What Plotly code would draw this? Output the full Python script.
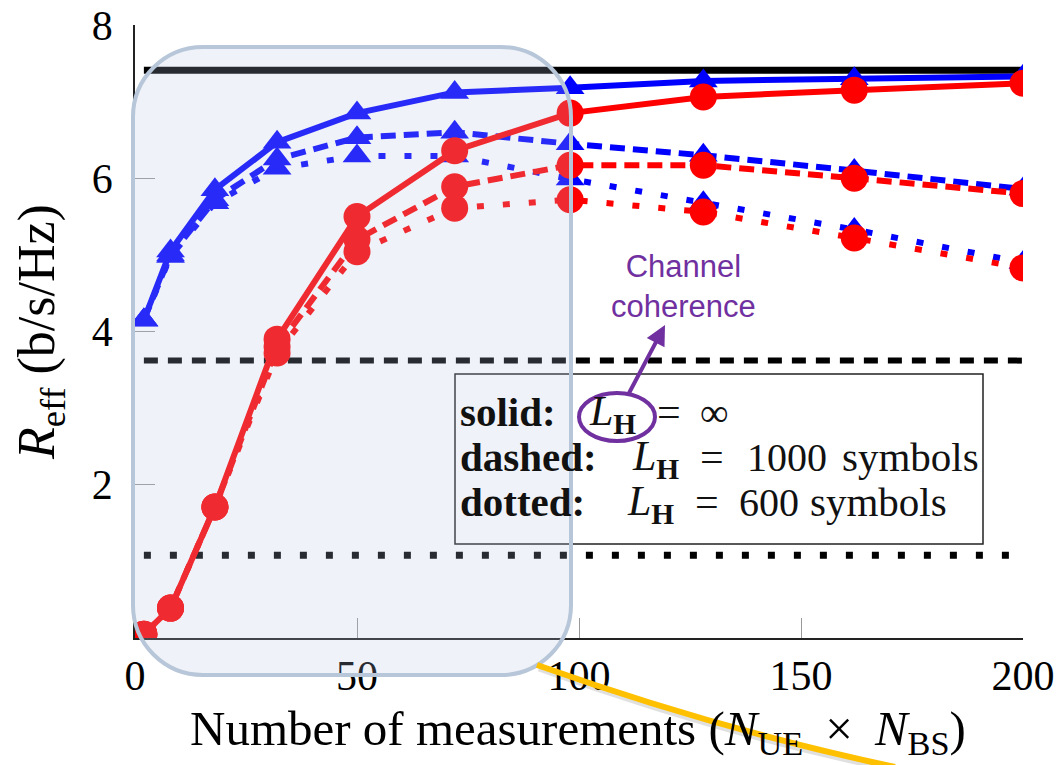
import plotly.graph_objects as go

# ---------------- data ----------------
measurements = [2, 8, 18, 32, 50, 72, 98, 128, 162, 200]

blue_solid  = [4.15, 5.05, 5.85, 6.47, 6.85, 7.12, 7.18, 7.27, 7.30, 7.33]
blue_dashed = [4.15, 5.00, 5.72, 6.25, 6.53, 6.60, 6.45, 6.30, 6.10, 5.86]
blue_dotted = [4.15, 4.98, 5.68, 6.13, 6.29, 6.29, 5.99, 5.68, 5.33, 4.90]

red_solid   = [0.05, 0.39, 1.71, 3.90, 5.50, 6.36, 6.85, 7.06, 7.15, 7.24]
red_dashed  = [0.05, 0.39, 1.71, 3.80, 5.20, 5.89, 6.17, 6.17, 6.00, 5.80]
red_dotted  = [0.05, 0.39, 1.71, 3.72, 5.04, 5.61, 5.72, 5.56, 5.22, 4.83]

ref_x = [2, 200]
ref_solid = 7.41
ref_dashed = 3.62
ref_dotted = 1.08

x_ticks = [0, 50, 100, 150, 200]
y_ticks = [2, 4, 6, 8]

x_title = ("Number of measurements (<i>N</i><sub>UE</sub>\u00a0\u2009×\u2009\u00a0"
           "<i>N</i><sub>BS</sub>)")
y_title = "<i>R</i><sub>eff</sub> (b/s/Hz)"
channel_label = "Channel<br>coherence"
legend_rows = [
    ("solid:", "∞", None),
    ("dashed:", "1000", "symbols"),
    ("dotted:", "600", "symbols"),
]

# ---------------- layout geometry ----------------
W, H = 1061, 765
L, R, T, B = 135, 1023, 25, 638   # plot area in pixels


def px(x):
    return (x - L) / (R - L)


def py(y):
    return (B - y) / (B - T)


BLUE = "#0000ff"
RED = "#ff0000"
BLACK = "#000000"
PURPLE = "#7030a0"
SERIF = "Liberation Serif"

fig = go.Figure()

# reference lines
fig.add_trace(go.Scatter(x=ref_x, y=[ref_solid] * 2, mode="lines",
                         line=dict(color=BLACK, width=7), showlegend=False))
fig.add_trace(go.Scatter(x=ref_x, y=[ref_dashed] * 2, mode="lines",
                         line=dict(color=BLACK, width=6, dash="14px,10px"), showlegend=False))
fig.add_trace(go.Scatter(x=ref_x, y=[ref_dotted] * 2, mode="lines",
                         line=dict(color=BLACK, width=7, dash="7px,19px"), showlegend=False))

dashes = {"solid": "solid", "dashed": "15px,8px", "dotted": "7px,19px"}

for series, style in [(blue_dotted, "dotted"), (blue_dashed, "dashed"), (blue_solid, "solid")]:
    fig.add_trace(go.Scatter(
        x=measurements, y=series, mode="lines+markers",
        line=dict(color=BLUE, width=6, dash=dashes[style]),
        marker=dict(symbol="triangle-up", size=25, color=BLUE, line=dict(width=0)),
        showlegend=False))

for series, style in [(red_dotted, "dotted"), (red_dashed, "dashed"), (red_solid, "solid")]:
    fig.add_trace(go.Scatter(
        x=measurements, y=series, mode="lines+markers",
        line=dict(color=RED, width=6, dash=dashes[style]),
        marker=dict(symbol="circle", size=27, color=RED, line=dict(width=0)),
        showlegend=False))

# ---------------- shapes ----------------
shapes = []

# legend-like box
shapes.append(dict(type="rect", xref="paper", yref="paper",
                   x0=px(455), x1=px(983), y0=py(544), y1=py(374),
                   line=dict(color="#222222", width=1.5), fillcolor="rgba(0,0,0,0)",
                   layer="above"))

# rounded highlight rectangle
x0, x1 = px(133), px(571)
yt, yb = py(47), py(675)
rx, ry = 70 / (R - L), 70 / (B - T)
k = 0.5523
path = (
    f"M {x0+rx},{yt} L {x1-rx},{yt} "
    f"C {x1-rx+k*rx},{yt} {x1},{yt-ry+k*ry} {x1},{yt-ry} "
    f"L {x1},{yb+ry} "
    f"C {x1},{yb+ry-k*ry} {x1-rx+k*rx},{yb} {x1-rx},{yb} "
    f"L {x0+rx},{yb} "
    f"C {x0+rx-k*rx},{yb} {x0},{yb+ry-k*ry} {x0},{yb+ry} "
    f"L {x0},{yt-ry} "
    f"C {x0},{yt-ry+k*ry} {x0+rx-k*rx},{yt} {x0+rx},{yt} Z"
)
shapes.append(dict(type="path", xref="paper", yref="paper", path=path,
                   fillcolor="rgba(181,194,223,0.22)",
                   line=dict(color="#b7c6d8", width=4), layer="above"))

# ellipse around L_H
shapes.append(dict(type="circle", xref="paper", yref="paper",
                   x0=px(579), x1=px(655), y0=py(441), y1=py(393),
                   line=dict(color=PURPLE, width=4), fillcolor="rgba(0,0,0,0)",
                   layer="above"))

# yellow curve (with faint shadow)
shapes.append(dict(type="path", xref="paper", yref="paper",
                   path=f"M {px(539)},{py(668)} Q {px(722)},{py(734)} {px(897)},{py(770)}",
                   line=dict(color="rgba(0,0,0,0.12)", width=7), layer="above"))
shapes.append(dict(type="path", xref="paper", yref="paper",
                   path=f"M {px(537)},{py(665)} Q {px(720)},{py(730)} {px(895)},{py(767)}",
                   line=dict(color="#ffc000", width=6), layer="above"))

# ---------------- annotations ----------------
annotations = []


def text_at(x, y, text, size, family=SERIF, color="#111111", xanchor="left", angle=0):
    annotations.append(dict(xref="paper", yref="paper", x=px(x), y=py(y), text=text,
                            xanchor=xanchor, yanchor="middle", showarrow=False,
                            textangle=angle,
                            font=dict(family=family, size=size, color=color)))


# legend rows: label, L_H, '=', value, unit
row_y = [412, 457, 502]
row_L = [587, 630, 625]
row_eq = [655, 698, 693]
row_val = [698, 745, 737]
row_unit = [None, 840, 808]
LH = "<i>L</i><sub><b>H</b></sub>"
for (lab, val, unit), y, xl, xe, xv, xu in zip(legend_rows, row_y, row_L, row_eq, row_val, row_unit):
    text_at(458, y, f"<b>{lab}</b>", 41)
    text_at(xl, y + 2, LH, 42)
    text_at(xe, y, "=", 42)
    text_at(xv, y, val, 40)
    if unit:
        text_at(xu, y, unit, 41)

# channel coherence note and arrow
text_at(683, 286, channel_label, 31, family="Liberation Sans", color=PURPLE, xanchor="center")
annotations.append(dict(xref="paper", yref="paper", x=px(665), y=py(325), text="",
                        showarrow=True, axref="pixel", ayref="pixel", ax=-37, ay=70,
                        arrowhead=2, arrowsize=1, arrowwidth=4, arrowcolor=PURPLE))

# axis titles
text_at(578, 731, x_title, 49, color="black", xanchor="center")
text_at(40, 332, y_title, 52, color="black", xanchor="center", angle=-90)

fig.update_layout(
    width=W, height=H,
    margin=dict(l=L, r=W - R, t=T, b=H - B, pad=0, autoexpand=False),
    paper_bgcolor="white", plot_bgcolor="white",
    font=dict(family=SERIF, color="black"),
    shapes=shapes, annotations=annotations,
    showlegend=False,
)

fig.update_xaxes(
    range=[0, 200], tickvals=x_ticks, ticktext=[str(v) for v in x_ticks],
    showgrid=False, zeroline=False, automargin=False,
    showline=True, linecolor="#222222", linewidth=2,
    ticks="inside", ticklen=20, tickcolor="#999999", tickwidth=1,
    tickfont=dict(family=SERIF, size=42, color="black"),
    ticklabelstandoff=0,
)
fig.update_yaxes(
    range=[0, 8], tickvals=y_ticks, ticktext=[str(v) for v in y_ticks],
    showgrid=False, zeroline=False, automargin=False,
    showline=True, linecolor="#222222", linewidth=1.5,
    ticks="inside", ticklen=20, tickcolor="#999999", tickwidth=1,
    tickfont=dict(family=SERIF, size=42, color="black"),
    ticklabelstandoff=12,
)

fig.write_html("out.html")
